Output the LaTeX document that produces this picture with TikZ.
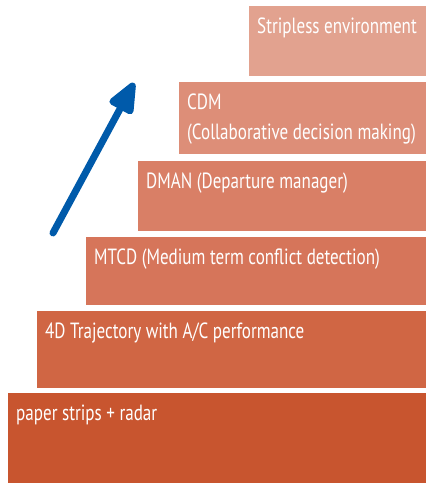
\documentclass[tikz,border=0pt]{standalone}
\usepackage{fontspec}
\setmainfont[FakeStretch=0.775]{PT Sans}
\usepackage{tikz}
\usetikzlibrary{positioning,calc,arrows.meta}

\definecolor{stepA}{RGB}{200,85,47}
\definecolor{stepB}{RGB}{208,102,68}
\definecolor{stepC}{RGB}{214,117,90}
\definecolor{stepD}{RGB}{217,127,102}
\definecolor{stepE}{RGB}{221,142,120}
\definecolor{stepF}{RGB}{226,162,143}
\definecolor{arrowblue}{RGB}{0,90,170}

\tikzset{
  stagebox/.style={draw=none, inner sep=0pt, anchor=south west},
  stagetext/.style={text=white, inner sep=0pt, anchor=base west, align=left,
    font=\fontsize{22}{30}\selectfont}
}

\begin{document}
\begin{tikzpicture}[x=1pt, y=1pt]
    \useasboundingbox (0,0) rectangle (426,483);

    % the stairs, bottom to top
    \node[stagebox, fill=stepA, minimum width=418pt, minimum height=90pt] (s1) at (8,0) {};
    \node[stagebox, fill=stepB, minimum width=389pt, minimum height=77pt] (s2) at (37,95) {};
    \node[stagebox, fill=stepC, minimum width=340pt, minimum height=68pt] (s3) at (86,178) {};
    \node[stagebox, fill=stepD, minimum width=288pt, minimum height=70pt] (s4) at (138,252) {};
    \node[stagebox, fill=stepE, minimum width=247pt, minimum height=72pt] (s5) at (179,329) {};
    \node[stagebox, fill=stepF, minimum width=177pt, minimum height=70pt] (s6) at (249,407) {};

    \node[stagetext] (t1) at ($(s1.north west)+(8,-28)$) {paper strips + radar};
    \node[stagetext] (t2) at ($(s2.north west)+(8,-28)$) {4D Trajectory with A/C performance};
    \node[stagetext] (t3) at ($(s3.north west)+(8,-28)$) {MTCD (Medium term conflict detection)};
    \node[stagetext] (t4) at ($(s4.north west)+(8,-28)$) {DMAN (Departure manager)};
    % two lines: base sits on the last one
    \node[stagetext] (t5) at ($(s5.north west)+(8,-58)$) {CDM\\(Collaborative decision making)};
    \node[stagetext] (t6) at ($(s6.north west)+(8,-28)$) {Stripless environment};

    % progress arrow
    \coordinate (tail) at (53,250);
    \coordinate (tip) at (134,400);
    \draw[arrowblue, line width=7pt, line cap=round,
          -{Triangle[length=36pt, width=28pt, round]}] (tail) -- (tip);
\end{tikzpicture}
\end{document}
